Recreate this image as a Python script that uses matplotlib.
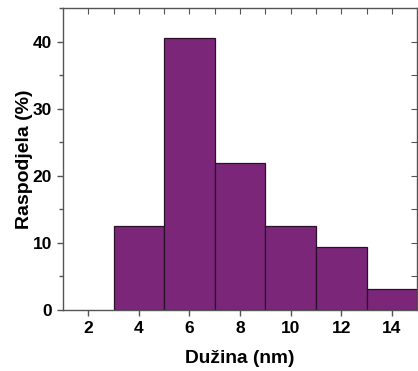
import matplotlib
matplotlib.use("Agg")
import matplotlib.pyplot as plt
from matplotlib.ticker import MultipleLocator

bin_edges = [3, 5, 7, 9, 11, 13, 15]
percent = [12.5, 40.6, 21.9, 12.5, 9.4, 3.1]
x_ticks = [2, 4, 6, 8, 10, 12, 14]
y_ticks = [0, 10, 20, 30, 40]

plt.rcParams['font.family'] = ['Liberation Sans', 'DejaVu Sans']
plt.rcParams['font.weight'] = 'bold'

fig = plt.figure(figsize=(4.18, 3.71), dpi=100)
ax = fig.add_axes([0.1507, 0.1644, 0.8473, 0.8136])

lefts = bin_edges[:-1]
widths = [b - a for a, b in zip(bin_edges[:-1], bin_edges[1:])]
ax.bar(lefts, percent, width=widths, align='edge', color='#7B2679',
       edgecolor='#2a1028', linewidth=0.9)

ax.set_xlim(1, 15)
ax.set_ylim(0, 45)
ax.set_xticks(x_ticks)
ax.set_yticks(y_ticks)
ax.yaxis.set_minor_locator(MultipleLocator(5))

for s in ax.spines.values():
    s.set_color('#555555')
    s.set_linewidth(1.0)

ax.tick_params(axis='both', which='both', direction='out', color='#555555')
ax.tick_params(axis='both', which='major', length=4, labelsize=12.5, width=1, pad=4)
ax.tick_params(axis='y', which='minor', length=3, width=1)

# top ticks (every 1 unit, inward)
axt = ax.secondary_xaxis('top')
axt.set_xticks(list(range(2, 15)))
axt.tick_params(direction='in', length=4, color='#555555', labeltop=False)
axt.set_xticklabels([])
axt.spines['top'].set_visible(False)

# right ticks (inward)
axr = ax.secondary_yaxis('right')
axr.set_yticks([5, 10, 15, 20, 25, 30, 35, 40])
axr.set_yticklabels([])
axr.tick_params(direction='in', length=4, color='#555555')
axr.spines['right'].set_visible(False)

for lbl in ax.get_xticklabels() + ax.get_yticklabels():
    lbl.set_fontweight('bold')

ax.set_xlabel('Dužina (nm)', fontsize=13.8, fontweight='bold', va='center')
ax.set_ylabel('Raspodjela (%)', fontsize=14, fontweight='bold', va='center')
ax.xaxis.set_label_coords(0.5, -0.159)
ax.yaxis.set_label_coords(-0.11, 0.5)

fig.savefig('out.png', dpi=100)
